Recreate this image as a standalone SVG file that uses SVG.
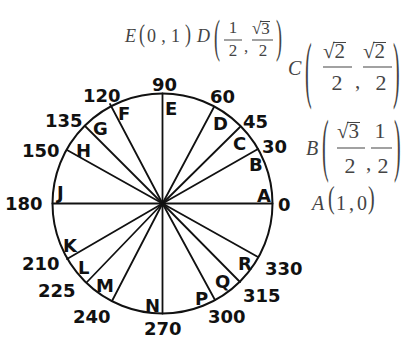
<svg xmlns="http://www.w3.org/2000/svg" width="405" height="339" viewBox="0 0 405 339">
<style>
.ray{stroke:#111;stroke-width:1.8;fill:none;stroke-linecap:round}
.lbl{font-family:"DejaVu Sans",sans-serif;font-weight:bold;font-size:18px;fill:#111}
.m{font-family:"Liberation Serif","DejaVu Serif",serif;fill:#444}
.mi{font-style:italic}
.bar{stroke:#555;stroke-width:1.1}
.vin{stroke:#444;stroke-width:1}
</style>
<rect width="405" height="339" fill="#fff"/>
<g id="circle">
<circle cx="162.5" cy="203.5" r="110" fill="none" stroke="#111" stroke-width="2"/>
<circle cx="162.5" cy="203.5" r="3" fill="#111"/>
</g>
<g id="rays">
<line class="ray" x1="162.5" y1="203.5" x2="272.5" y2="203.5"/>
<line class="ray" x1="162.5" y1="203.5" x2="258" y2="149"/>
<line class="ray" x1="162.5" y1="203.5" x2="240" y2="127"/>
<line class="ray" x1="162.5" y1="203.5" x2="214" y2="107"/>
<line class="ray" x1="162.5" y1="203.5" x2="162.5" y2="93.5"/>
<line class="ray" x1="162.5" y1="203.5" x2="110" y2="104"/>
<line class="ray" x1="162.5" y1="203.5" x2="85" y2="126"/>
<line class="ray" x1="162.5" y1="203.5" x2="67" y2="150"/>
<line class="ray" x1="162.5" y1="203.5" x2="52.5" y2="203.5"/>
<line class="ray" x1="162.5" y1="203.5" x2="67" y2="259"/>
<line class="ray" x1="162.5" y1="203.5" x2="87" y2="282"/>
<line class="ray" x1="162.5" y1="203.5" x2="112" y2="301"/>
<line class="ray" x1="162.5" y1="203.5" x2="162.5" y2="313.5"/>
<line class="ray" x1="162.5" y1="203.5" x2="215" y2="300"/>
<line class="ray" x1="162.5" y1="203.5" x2="240" y2="282"/>
<line class="ray" x1="162.5" y1="203.5" x2="258" y2="257"/>
</g>
<g id="angle-labels" class="lbl">
<text x="152" y="91">90</text>
<text x="83" y="102">120</text>
<text x="45" y="127">135</text>
<text x="22" y="157">150</text>
<text x="5" y="210">180</text>
<text x="210" y="103">60</text>
<text x="243" y="128">45</text>
<text x="262" y="153">30</text>
<text x="278" y="211">0</text>
<text x="22" y="270">210</text>
<text x="38" y="297">225</text>
<text x="73" y="323">240</text>
<text x="144" y="335">270</text>
<text x="208" y="323">300</text>
<text x="243" y="302">315</text>
<text x="265" y="275">330</text>
</g>
<g id="point-labels" class="lbl">
<text x="165" y="115">E</text>
<text x="118" y="120">F</text>
<text x="93" y="135">G</text>
<text x="76" y="157">H</text>
<text x="57" y="199">J</text>
<text x="213" y="130">D</text>
<text x="233" y="150">C</text>
<text x="249" y="171">B</text>
<text x="257" y="202">A</text>
<text x="63" y="252">K</text>
<text x="78" y="274">L</text>
<text x="96" y="292">M</text>
<text x="145" y="312">N</text>
<text x="195" y="305">P</text>
<text x="215" y="288">Q</text>
<text x="238" y="270">R</text>
</g>
<g id="coord-E" class="m">
<text class="mi" x="125" y="42" font-size="18">E</text>
<text x="139" y="0" font-size="18" transform="translate(0,41.8) scale(1,1.34)">(</text>
<text x="147" y="42" font-size="18" textLength="33" lengthAdjust="spacing">0,1</text>
<text x="185" y="0" font-size="18" transform="translate(0,41.8) scale(1,1.34)">)</text>
</g>
<g id="coord-D" class="m">
<text class="mi" x="197" y="42" font-size="18">D</text>
<text x="214" y="0" font-size="18" transform="translate(0,52) scale(1,2.57)">(</text>
<text x="233" y="33" font-size="17" text-anchor="middle">1</text>
<line class="bar" x1="224" y1="40" x2="242" y2="40"/>
<text x="233" y="56" font-size="17" text-anchor="middle">2</text>
<text x="244" y="52" font-size="17">,</text>
<text x="252" y="34" font-size="17">√3</text>
<line class="vin" x1="260" y1="21.5" x2="270" y2="21.5"/>
<line class="bar" x1="252" y1="40" x2="273" y2="40"/>
<text x="263" y="56" font-size="17" text-anchor="middle">2</text>
<text x="276" y="0" font-size="18" transform="translate(0,52) scale(1,2.57)">)</text>
</g>
<g id="coord-C" class="m">
<text class="mi" x="288" y="75" font-size="20">C</text>
<text x="305" y="0" font-size="20" transform="translate(0,93.9) scale(1,3.74)">(</text>
<text x="323" y="58" font-size="21">√2</text>
<line class="vin" x1="333" y1="42.5" x2="346" y2="42.5"/>
<line class="bar" x1="323" y1="67" x2="352" y2="67"/>
<text x="337" y="90" font-size="22" text-anchor="middle">2</text>
<text x="355" y="88" font-size="21">,</text>
<text x="363" y="58" font-size="21">√2</text>
<line class="vin" x1="373" y1="42.5" x2="386" y2="42.5"/>
<line class="bar" x1="363" y1="67" x2="392" y2="67"/>
<text x="381" y="90" font-size="22" text-anchor="middle">2</text>
<text x="393" y="0" font-size="20" transform="translate(0,93.9) scale(1,3.74)">)</text>
</g>
<g id="coord-B" class="m">
<text class="mi" x="306" y="155" font-size="20">B</text>
<text x="322" y="0" font-size="20" transform="translate(0,168) scale(1,3.47)">(</text>
<text x="337" y="138" font-size="21">√3</text>
<line class="vin" x1="347" y1="122.5" x2="360" y2="122.5"/>
<line class="bar" x1="337" y1="148" x2="365" y2="148"/>
<text x="350" y="173" font-size="22" text-anchor="middle">2</text>
<text x="366" y="170" font-size="21">,</text>
<text x="380" y="138" font-size="22" text-anchor="middle">1</text>
<line class="bar" x1="371" y1="148" x2="392" y2="148"/>
<text x="383" y="173" font-size="22" text-anchor="middle">2</text>
<text x="394" y="0" font-size="20" transform="translate(0,168) scale(1,3.47)">)</text>
</g>
<g id="coord-A" class="m">
<text class="mi" x="312" y="210" font-size="20">A</text>
<text x="328" y="0" font-size="20" transform="translate(0,208.4) scale(1,1.54)">(</text>
<text x="336" y="210" font-size="20" textLength="31" lengthAdjust="spacing">1,0</text>
<text x="368" y="0" font-size="20" transform="translate(0,208.4) scale(1,1.54)">)</text>
</g>
</svg>
